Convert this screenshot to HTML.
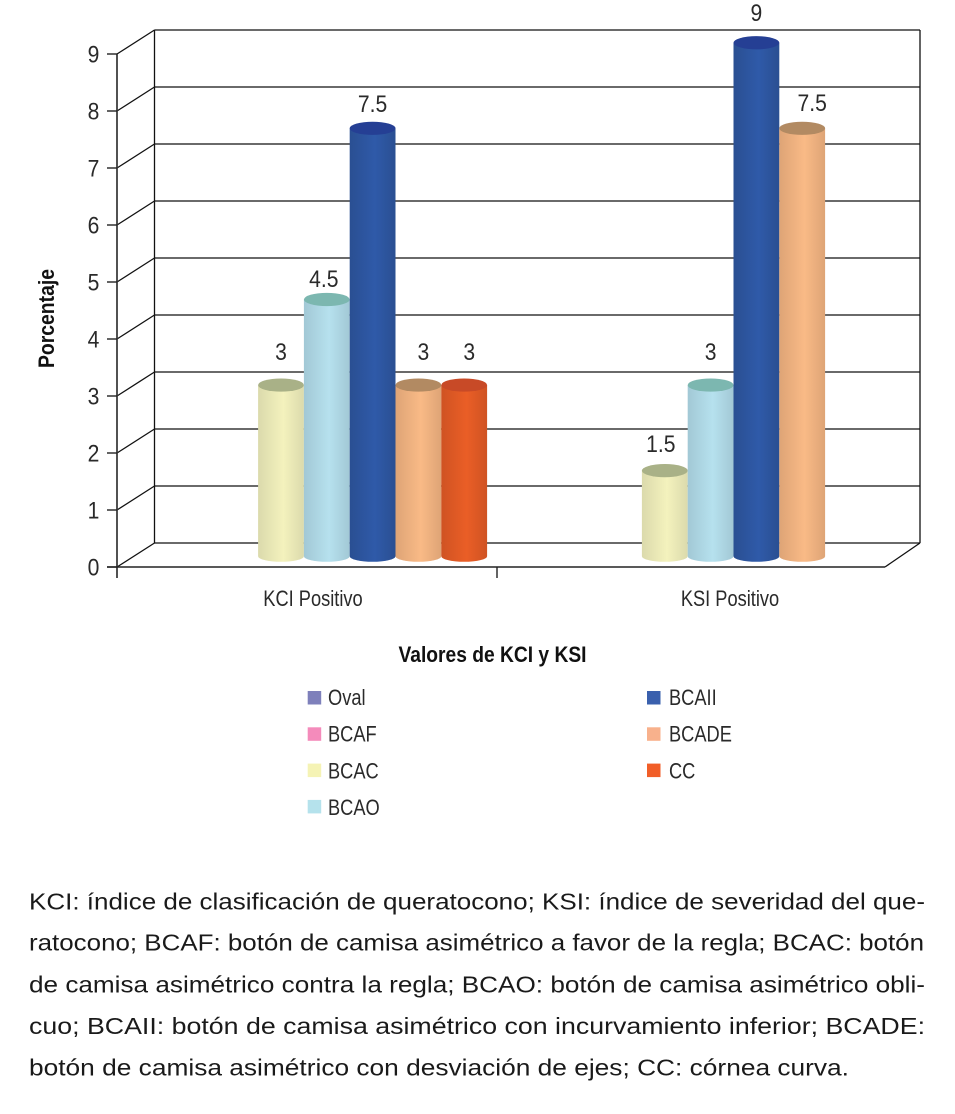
<!DOCTYPE html>
<html lang="es">
<head>
<meta charset="utf-8">
<title>KCI y KSI</title>
<style>
  html, body { margin: 0; padding: 0; background: #fff; }
  svg { display: block; font-family: "Liberation Sans", sans-serif; }
  .caption { font-size: 23px; fill: #1a1a1a; }
  .axis-title { font-size: 22px; font-weight: bold; fill: #111; }
</style>
</head>
<body>
<svg id="chart" xmlns="http://www.w3.org/2000/svg" width="955" height="1114" viewBox="0 0 955 1114">
  <defs id="grads"></defs>
  <g id="frame"></g>
  <g id="bars"></g>
  <g id="labels"></g>
  <g id="axes"></g>
  <g id="legend"></g>
  <text class="axis-title" transform="translate(54,368) rotate(-90)" textLength="99" lengthAdjust="spacingAndGlyphs">Porcentaje</text>
  <text class="axis-title" x="398.5" y="662" textLength="188" lengthAdjust="spacingAndGlyphs">Valores de KCI y KSI</text>
  <g>
    <text class="caption" x="29" y="909.3" textLength="896" lengthAdjust="spacingAndGlyphs">KCI: índice de clasificación de queratocono; KSI: índice de severidad del que-</text>
    <text class="caption" x="29" y="950.7" textLength="895" lengthAdjust="spacingAndGlyphs">ratocono; BCAF: botón de camisa asimétrico a favor de la regla; BCAC: botón</text>
    <text class="caption" x="29" y="992.7" textLength="896" lengthAdjust="spacingAndGlyphs">de camisa asimétrico contra la regla; BCAO: botón de camisa asimétrico obli-</text>
    <text class="caption" x="29" y="1034" textLength="896" lengthAdjust="spacingAndGlyphs">cuo; BCAII: botón de camisa asimétrico con incurvamiento inferior; BCADE:</text>
    <text class="caption" x="29" y="1075.3" textLength="820" lengthAdjust="spacingAndGlyphs">botón de camisa asimétrico con desviación de ejes; CC: córnea curva.</text>
  </g>
</svg>
<script>
// ---- chart data ----
var categories = ['KCI Positivo', 'KSI Positivo'];
var seriesNames = ['Oval', 'BCAF', 'BCAC', 'BCAO', 'BCAII', 'BCADE', 'CC'];
var valuesOval = [null, null];
var valuesBCAF = [null, null];
var valuesBCAC = [3, 1.5];
var valuesBCAO = [4.5, 3];
var valuesBCAII = [7.5, 9];
var valuesBCADE = [3, 7.5];
var valuesCC = [3, null];
var valueLabelsBCAC = ['3', '1.5'];
var valueLabelsBCAO = ['4.5', '3'];
var valueLabelsBCAII = ['7.5', '9'];
var valueLabelsBCADE = ['3', '7.5'];
var valueLabelsCC = ['3', ''];
var tickLabels = ['0', '1', '2', '3', '4', '5', '6', '7', '8', '9'];

var seriesValues = [valuesOval, valuesBCAF, valuesBCAC, valuesBCAO, valuesBCAII, valuesBCADE, valuesCC];
var seriesLabels = [[], [], valueLabelsBCAC, valueLabelsBCAO, valueLabelsBCAII, valueLabelsBCADE, valueLabelsCC];

// ---- style ----
var swatchColors = ['#7e80bb', '#f48bbb', '#f5f3b5', '#b5e2ec', '#3a60ad', '#f8b18c', '#f15e28'];
var edgeColors = ['#6a6ca5', '#d878a5', '#dbdaac', '#a2c8d5', '#2a4f92', '#dea476', '#cf5323'];
var midColors = ['#7e80bb', '#f48bbb', '#f4f2bd', '#b6e1ee', '#2f5aa9', '#f9ba86', '#ea5e26'];
var capColors = ['#5a5c90', '#b86a90', '#a9b187', '#7cb7b0', '#253f94', '#b28a62', '#c84a27'];

// ---- axis functions ----
function frontY(v) { return 567 - 57 * v; }
function backY(v) { return 543 - 57 * v; }
function barY(v) { return 556.2 - 57.05 * v; }
function catCenter(c) { return 326.8 + 383.8 * c; }
function barX(c, s) { return catCenter(c) + (s - 3.5) * 45.8; }
function catLabelX(c) { return 313 + 417 * c; }

var NS = 'http://www.w3.org/2000/svg';
function mk(tag, attrs, parent) {
  var el = document.createElementNS(NS, tag);
  for (var k in attrs) el.setAttribute(k, attrs[k]);
  parent.appendChild(el);
  return el;
}
function line(parent, x1, y1, x2, y2, w, color) {
  return mk('line', { x1: x1, y1: y1, x2: x2, y2: y2, stroke: color || '#111', 'stroke-width': w || 1.3 }, parent);
}
function label(parent, str, x, y, size, sx, anchor) {
  var t = mk('text', {
    transform: 'translate(' + x + ',' + y + ') scale(' + sx + ',1)',
    'font-size': size, 'text-anchor': anchor || 'middle', fill: '#2a2a2a'
  }, parent);
  t.textContent = str;
  return t;
}

var defs = document.getElementById('grads');
var frame = document.getElementById('frame');
var barsG = document.getElementById('bars');
var labelsG = document.getElementById('labels');
var axes = document.getElementById('axes');
var legend = document.getElementById('legend');

// ---- frame: back wall, side wall, floor ----
tickLabels.forEach(function (t, i) {
  var g = line(frame, 154.5, backY(i), 920, backY(i));
  
  
  var d = line(frame, 117, frontY(i), 154.5, backY(i));
  
  
});
var backLeft = line(frame, 154.5, backY(9), 154.5, backY(0));


var backRight = line(frame, 920, backY(9), 920, backY(0));


var floorEdge = line(frame, 885, frontY(0), 920, backY(0));



// ---- bars ----
var barW = 45.8, capRy = 6.6, footRy = 5.6;
seriesNames.forEach(function (name, s) {
  var grad = mk('linearGradient', { id: 'grad' + s, x1: 0, x2: 1, y1: 0, y2: 0 }, defs);
  mk('stop', { offset: '0', 'stop-color': edgeColors[s] }, grad);
  mk('stop', { offset: '0.55', 'stop-color': midColors[s] }, grad);
  mk('stop', { offset: '1', 'stop-color': edgeColors[s] }, grad);
  categories.forEach(function (cat, c) {
    var v = seriesValues[s][c];
    if (v === null || v === undefined) return;
    var x = barX(c, s), top = barY(v), bottom = barY(0);
    var bar = mk('g', {}, barsG);
    
    
    mk('path', {
      d: 'M' + x + ',' + top + ' L' + x + ',' + bottom + ' A' + (barW / 2) + ',' + footRy + ' 0 0 0 ' + (x + barW) + ',' + bottom + ' L' + (x + barW) + ',' + top + ' Z',
      fill: 'url(#grad' + s + ')'
    }, bar);
    mk('ellipse', { cx: x + barW / 2, cy: top, rx: barW / 2, ry: capRy, fill: capColors[s] }, bar);
  });
});

// ---- value labels (offsets from the bar top, per label, for hand-placed source labels) ----
function labelNudge(s, c) {
  var table = {
    '2-0': [0, -25], '2-1': [-4, -18.5],
    '3-0': [-3, -12.5], '3-1': [0, -25],
    '4-0': [0, -16.5], '4-1': [0, -22],
    '5-0': [5, -25], '5-1': [10, -17.5],
    '6-0': [5, -25]
  };
  return table[s + '-' + c];
}
seriesNames.forEach(function (name, s) {
  categories.forEach(function (cat, c) {
    var v = seriesValues[s][c];
    if (v === null || v === undefined) return;
    var n = labelNudge(s, c);
    var t = label(labelsG, seriesLabels[s][c], barX(c, s) + barW / 2 + n[0], barY(v) + n[1], 24, 0.88);
    
    
  });
});

// ---- axes ----
var yAxis = line(axes, 117, frontY(9), 117, 578, 1.7, '#333');


var xAxis = line(axes, 107, frontY(0), 885, frontY(0), 1.4, '#222');


var catTick = line(axes, 497, frontY(0), 497, 578, 1.4, '#222');


tickLabels.forEach(function (t, i) {
  var tk = line(axes, 107, frontY(i), 117, frontY(i), 1.4, '#222');
  
  
  var lb = label(axes, t, 93.5, frontY(i) + 8.5, 24, 0.88);
  
  
});
categories.forEach(function (cat, c) {
  var lb = label(axes, cat, catLabelX(c), 606, 22, 0.83);
  
  
});

// ---- legend ----
seriesNames.forEach(function (name, s) {
  var col = s < 4 ? 0 : 1;
  var row = s < 4 ? s : s - 4;
  var entry = mk('g', {}, legend);
  
  
  var sw = mk('rect', { x: 307.7 + 339.3 * col, y: 691 + 36.3 * row, width: 13.5, height: 13.5, fill: swatchColors[s] }, entry);
  
  
  var tx = label(entry, name, 328 + 341 * col, 705 + 36.67 * row, 22, 0.83, 'start');
  
  
});
</script>
</body>
</html>
